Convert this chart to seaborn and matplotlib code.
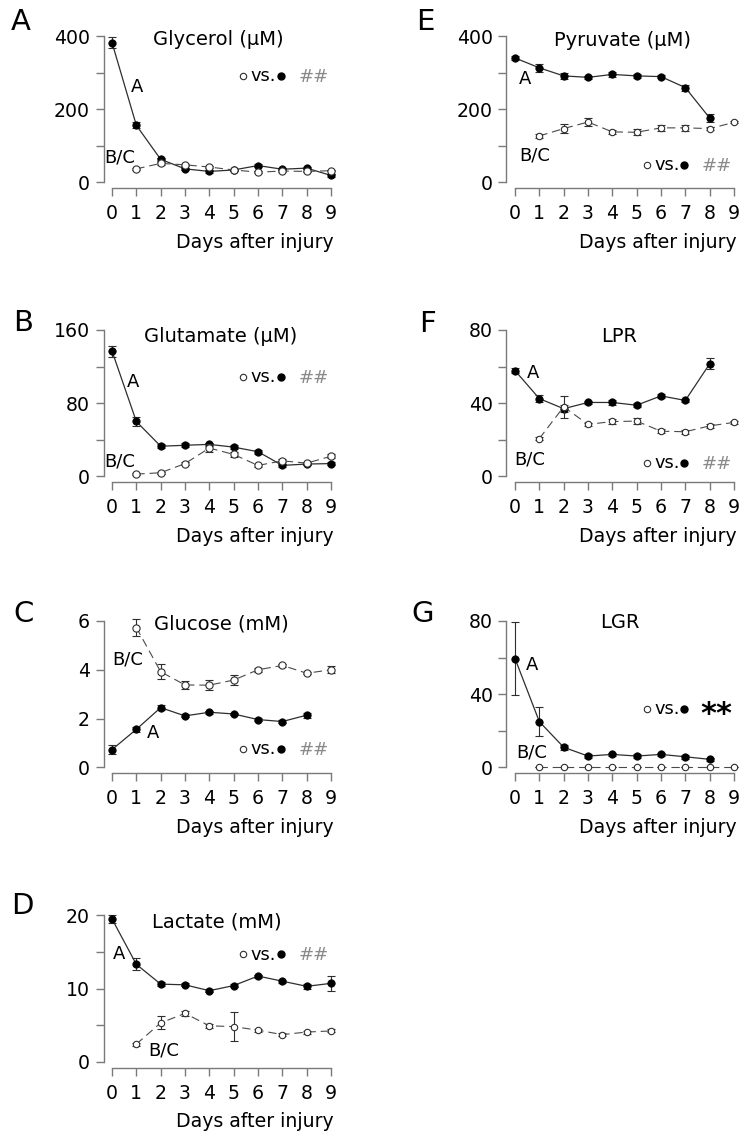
import numpy as np
import pandas as pd
import matplotlib
matplotlib.use("Agg")
import matplotlib.pyplot as plt
from matplotlib.lines import Line2D
import seaborn as sns

nan = np.nan

# ---------------- data ----------------
days = [0, 1, 2, 3, 4, 5, 6, 7, 8, 9]
x_ticklabels = ["0", "1", "2", "3", "4", "5", "6", "7", "8", "9"]

glycerol_inj = [382, 156, 63, 37, 30, 34, 46, 36, 39, 19]
glycerol_inj_se = [14, 8, 5, 3, 3, 2, 4, 3, 3, 3]
glycerol_ctl = [nan, 37, 52, 48, 42, 34, 28, 31, 30, 32]
glycerol_ctl_se = [nan, 3, 4, 3, 3, 2, 2, 2, 2, 2]

glutamate_inj = [137, 60, 33, 34, 35, 32, 27, 12, 13.5, 14]
glutamate_inj_se = [6, 5, 2, 2, 2, 2, 2, 1.5, 1.5, 1.5]
glutamate_ctl = [nan, 2.5, 4, 14, 31, 24, 12, 17, 14.5, 22]
glutamate_ctl_se = [nan, 1, 1, 2, 4, 3, 1.5, 1.5, 1.5, 2]

glucose_inj = [0.73, 1.56, 2.45, 2.11, 2.26, 2.19, 1.96, 1.88, 2.14, nan]
glucose_inj_se = [0.18, 0.1, 0.1, 0.06, 0.06, 0.06, 0.06, 0.06, 0.1, nan]
glucose_ctl = [nan, 5.73, 3.92, 3.38, 3.37, 3.58, 4.0, 4.18, 3.86, 4.0]
glucose_ctl_se = [nan, 0.35, 0.3, 0.18, 0.2, 0.2, 0.08, 0.05, 0.05, 0.15]

lactate_inj = [19.5, 13.3, 10.6, 10.5, 9.7, 10.4, 11.7, 11.0, 10.3, 10.7]
lactate_inj_se = [0.6, 0.8, 0.3, 0.2, 0.2, 0.2, 0.2, 0.2, 0.3, 1.0]
lactate_ctl = [nan, 2.4, 5.3, 6.6, 4.9, 4.8, 4.3, 3.7, 4.05, 4.2]
lactate_ctl_se = [nan, 0.2, 0.9, 0.3, 0.3, 2.0, 0.2, 0.2, 0.2, 0.2]

pyruvate_inj = [340, 313, 291, 287, 295, 291, 289, 259, 176, nan]
pyruvate_inj_se = [5, 10, 8, 5, 8, 5, 5, 8, 10, nan]
pyruvate_ctl = [nan, 127, 147, 165, 138, 137, 149, 149, 147, 164]
pyruvate_ctl_se = [nan, 5, 12, 10, 5, 8, 8, 8, 5, 3]

lpr_inj = [57.8, 42.5, 37, 40.4, 40.4, 38.9, 44, 41.5, 61.5, nan]
lpr_inj_se = [1.5, 2, 2, 1, 1.5, 1, 1, 1, 3, nan]
lpr_ctl = [nan, 20.7, 38, 28.4, 30, 30.2, 24.7, 24.4, 27.6, 29.5]
lpr_ctl_se = [nan, 1, 6, 1, 1.5, 1.5, 1, 1, 1, 1]

lgr_inj = [59.5, 25, 11, 6.2, 7.1, 6.2, 7.1, 5.8, 4.4, nan]
lgr_inj_se = [20, 8, 1.5, 1, 1, 1, 1, 1, 1, nan]
lgr_ctl = [nan, 0.1, 0.1, 0.1, 0.1, 0.1, 0.1, 0.1, 0.1, 0.1]
lgr_ctl_se = [nan, 0.1, 0.1, 0.1, 0.1, 0.1, 0.1, 0.1, 0.1, 0.1]

panel_letters = ["A", "B", "C", "D", "E", "F", "G"]
panel_titles = ["Glycerol (\u03bcM)", "Glutamate (\u03bcM)", "Glucose (mM)",
                "Lactate (mM)", "Pyruvate (\u03bcM)", "LPR", "LGR"]
y_max = [400, 160, 6, 20, 400, 80, 80]
y_ticks = [[0, 100, 200, 300, 400], [0, 40, 80, 120, 160], [0, 2, 4, 6],
           [0, 5, 10, 15, 20], [0, 100, 200, 300, 400], [0, 20, 40, 60, 80],
           [0, 20, 40, 60, 80]]
y_ticklabels = [["0", "", "200", "", "400"], ["0", "", "80", "", "160"],
                ["0", "2", "4", "6"], ["0", "", "10", "", "20"],
                ["0", "", "200", "", "400"], ["0", "", "40", "", "80"],
                ["0", "", "40", "", "80"]]
stat_marks = ["##", "##", "##", "##", "##", "##", "**"]

series = [
    (glycerol_inj, glycerol_inj_se, glycerol_ctl, glycerol_ctl_se),
    (glutamate_inj, glutamate_inj_se, glutamate_ctl, glutamate_ctl_se),
    (glucose_inj, glucose_inj_se, glucose_ctl, glucose_ctl_se),
    (lactate_inj, lactate_inj_se, lactate_ctl, lactate_ctl_se),
    (pyruvate_inj, pyruvate_inj_se, pyruvate_ctl, pyruvate_ctl_se),
    (lpr_inj, lpr_inj_se, lpr_ctl, lpr_ctl_se),
    (lgr_inj, lgr_inj_se, lgr_ctl, lgr_ctl_se),
]

# ---------------- layout (pixels of a 741x1140 canvas) ----------------
W, H = 741, 1140
col_left = [103.5, 506.5]
row_top_val = [36, 330, 621, 915.3]   # pixel row of the y-max value
unit_h = 146.4                          # pixels from 0 to y-max
grid_pos = [(0, 0), (1, 0), (2, 0), (3, 0), (0, 1), (1, 1), (2, 1)]

letter_pos = [(11, 30), (13, 330.7), (13, 622.3), (11, 914),
              (416, 30), (419, 331.7), (411, 621.7)]
title_pos = [(218, 45), (221, 341.7), (221, 629), (217, 927.3),
             (623, 45.7), (619, 341.7), (620, 628.3)]
labA_pos = [(137, 87), (133, 381.7), (152.7, 733.3), (119.3, 954.3),
            (525, 79), (533, 373), (531.7, 665)]
labBC_pos = [(120, 157), (120, 461.7), (128, 659), (163.3, 1050.7),
             (535, 155), (530, 460), (532, 752.3)]
key_pos = [(243.3, 75.7), (243.3, 376.7), (243.3, 749), (243.3, 954.3),
           (646.7, 164.7), (646.7, 462.7), (646.7, 708.7)]

sns.set_style("ticks")
plt.rcParams["font.family"] = ["DejaVu Sans"]
plt.rcParams["text.color"] = "black"
plt.rcParams["axes.labelcolor"] = "black"
plt.rcParams["lines.scale_dashes"] = False

FS = 13.6
GREY = "#7a7a7a"
LINE = "#2e2e2e"

fig = plt.figure(figsize=(W / 100, H / 100), dpi=100)


def fx(x):
    return x / W


def fy(y):
    return 1 - y / H


xmin, xmax = -0.35, 9.1
ax_w = (xmax - xmin) * 24.33
lo_frac, hi_frac = 0.04, 0.04

for i in range(7):
    r, c = grid_pos[i]
    M = y_max[i]
    top_px = row_top_val[r] - hi_frac * unit_h
    h_px = (1 + lo_frac + hi_frac) * unit_h
    ax = fig.add_axes([fx(col_left[c]), fy(top_px + h_px), ax_w / W, h_px / H])
    inj, inj_se, ctl, ctl_se = series[i]

    df_inj = pd.DataFrame({"day": days, "val": inj, "se": inj_se}).dropna()
    df_ctl = pd.DataFrame({"day": days, "val": ctl, "se": ctl_se}).dropna()

    ax.errorbar(df_inj["day"], df_inj["val"], yerr=df_inj["se"], fmt="none",
                ecolor=LINE, elinewidth=0.8, capsize=3, capthick=0.8,
                zorder=2, clip_on=False)
    ax.errorbar(df_ctl["day"], df_ctl["val"], yerr=df_ctl["se"], fmt="none",
                ecolor=LINE, elinewidth=0.8, capsize=3, capthick=0.8,
                zorder=4, clip_on=False)

    sns.lineplot(data=df_inj, x="day", y="val", ax=ax, color=LINE, lw=0.9,
                 marker="o", markersize=5.3, markerfacecolor="black",
                 markeredgecolor="black", markeredgewidth=0.6,
                 zorder=3, clip_on=False)
    msz = 5.2 if i < 3 else 4.6
    sns.lineplot(data=df_ctl, x="day", y="val", ax=ax, color="#4a4a4a",
                 lw=0.8, linestyle=(0, (6, 3.5)), marker="o", markersize=msz,
                 markerfacecolor="white", markeredgecolor="#2e2e2e",
                 markeredgewidth=0.8, zorder=5, clip_on=False)

    ax.set_xlim(xmin, xmax)
    ax.set_ylim(-lo_frac * M, (1 + hi_frac) * M)
    ax.set_xticks(days)
    ax.set_xticklabels(x_ticklabels)
    ax.set_yticks(y_ticks[i])
    ax.set_yticklabels(y_ticklabels[i])
    for s in ["top", "right"]:
        ax.spines[s].set_visible(False)
    for s in ["left", "bottom"]:
        ax.spines[s].set_color(GREY)
        ax.spines[s].set_linewidth(1.0)
    ax.spines["left"].set_bounds(0, M)
    ax.spines["bottom"].set_bounds(0, 9)
    ax.tick_params(axis="both", direction="out", length=6, width=1.0,
                   color=GREY, labelsize=FS, labelcolor="black")
    ax.tick_params(axis="x", pad=5.5)
    ax.tick_params(axis="y", pad=4)
    ax.set_ylabel("")
    ax.set_xlabel("Days after injury", fontsize=FS, loc="right", labelpad=7,
                  color="black")
    ax.patch.set_alpha(0)

    # panel letter and title
    lx, ly = letter_pos[i]
    fig.text(fx(lx), fy(ly), panel_letters[i], fontsize=21, ha="left",
             va="baseline")
    tx, ty = title_pos[i]
    fig.text(fx(tx), fy(ty), panel_titles[i], fontsize=FS + 0.4, ha="center",
             va="baseline")
    # series labels
    ax_, ay_ = labA_pos[i]
    fig.text(fx(ax_), fy(ay_), "A", fontsize=FS - 0.6, ha="center",
             va="center")
    bx, by = labBC_pos[i]
    fig.text(fx(bx), fy(by), "B/C", fontsize=FS - 0.6, ha="center",
             va="center")

    # significance key: (open) vs. (filled)  ##
    kx, ky = key_pos[i]
    fig.add_artist(Line2D([fx(kx)], [fy(ky)], transform=fig.transFigure,
                          marker="o", markersize=4.6, markerfacecolor="white",
                          markeredgecolor="#2e2e2e", markeredgewidth=0.8,
                          linestyle="none"))
    fig.text(fx(kx + 20), fy(ky + 5.5), "vs.", fontsize=FS - 0.8,
             ha="center", va="baseline")
    fig.add_artist(Line2D([fx(kx + 37.5)], [fy(ky)], transform=fig.transFigure,
                          marker="o", markersize=5.0, markerfacecolor="black",
                          markeredgecolor="black", linestyle="none"))
    if stat_marks[i] == "**":
        fig.text(fx(kx + 70), fy(ky + 14), stat_marks[i], fontsize=22,
                 fontweight="bold", ha="center", va="baseline", color="black")
    else:
        fig.text(fx(kx + 70), fy(ky + 6), stat_marks[i], fontsize=FS - 0.5,
                 ha="center", va="baseline", color="#8a8a8a")

fig.savefig("out.png", dpi=100)
